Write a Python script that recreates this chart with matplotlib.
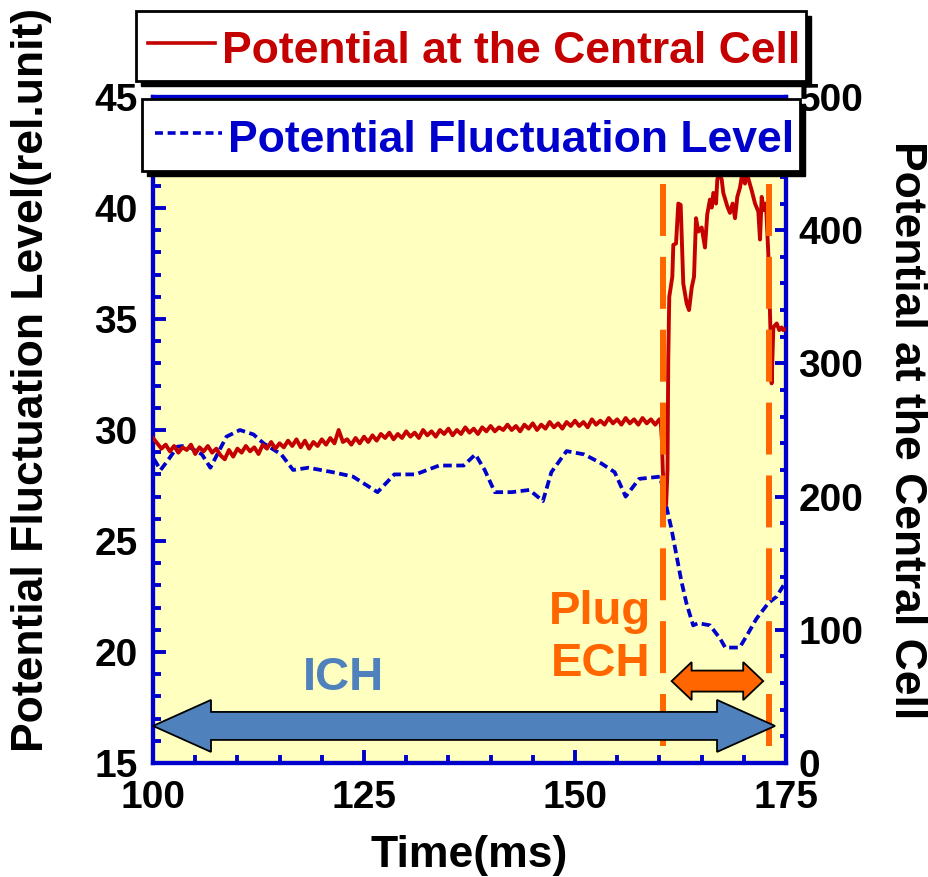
import matplotlib.pyplot as plt
from matplotlib.patches import Rectangle, Polygon
from matplotlib.lines import Line2D

plt.rcParams['font.family'] = ['Liberation Sans', 'DejaVu Sans']
plt.rcParams['font.weight'] = 'bold'
plt.rcParams['axes.labelweight'] = 'bold'

W, H = 929, 877

# central cell potential (right axis)
pot_t = [100.0, 100.5, 101.0, 101.5, 102.0, 102.5, 103.0, 103.5, 104.0, 104.5,
         105.0, 105.5, 106.0, 106.5, 107.0, 107.5, 108.0, 108.5, 109.0, 109.5,
         110.0, 110.5, 111.0, 111.5, 112.0, 112.5, 113.0, 113.5, 114.0, 114.5,
         115.0, 115.5, 116.0, 116.5, 117.0, 117.5, 118.0, 118.5, 119.0, 119.5,
         120.0, 120.5, 121.0, 121.5, 122.0, 122.5, 123.0, 123.5, 124.0, 124.5,
         125.0, 125.5, 126.0, 126.5, 127.0, 127.5, 128.0, 128.5, 129.0, 129.5,
         130.0, 130.5, 131.0, 131.5, 132.0, 132.5, 133.0, 133.5, 134.0, 134.5,
         135.0, 135.5, 136.0, 136.5, 137.0, 137.5, 138.0, 138.5, 139.0, 139.5,
         140.0, 140.5, 141.0, 141.5, 142.0, 142.5, 143.0, 143.5, 144.0, 144.5,
         145.0, 145.5, 146.0, 146.5, 147.0, 147.5, 148.0, 148.5, 149.0, 149.5,
         150.0, 150.5, 151.0, 151.5, 152.0, 152.5, 153.0, 153.5, 154.0, 154.5,
         155.0, 155.5, 156.0, 156.5, 157.0, 157.5, 158.0, 158.5, 159.0, 159.5,
         160.0, 160.15, 160.3, 160.4, 160.6, 160.8, 160.96, 161.05, 161.17, 161.53,
         161.65, 161.97, 162.24, 162.52, 162.83, 163.23, 163.51, 163.83, 164.1, 164.34,
         164.61, 165.01, 165.4, 165.67, 165.99, 166.2, 166.39, 166.71, 166.86, 167.1,
         167.38, 167.57, 168.04, 168.36, 168.68, 168.96, 169.23, 169.55, 169.75, 170.14,
         170.34, 170.93, 171.33, 171.72, 171.92, 172.12, 172.39, 172.63, 172.9, 173.19,
         173.3, 173.5, 173.9, 174.2, 174.49, 174.68, 175.0]
pot_v = [244, 240, 236, 239, 234, 238, 233, 237, 235, 239,
         232, 237, 234, 238, 233, 236, 231, 228, 235, 230,
         236, 233, 238, 234, 237, 232, 239, 236, 241, 236,
         240, 237, 242, 238, 243, 237, 242, 236, 241, 238,
         243, 239, 244, 240, 250, 241, 243, 239, 244, 240,
         245, 241, 246, 242, 247, 244, 248, 243, 247, 244,
         249, 245, 248, 244, 250, 246, 249, 245, 250, 247,
         251, 246, 250, 247, 252, 248, 251, 247, 252, 249,
         253, 249, 252, 250, 254, 250, 253, 249, 254, 251,
         255, 250, 254, 251, 256, 252, 255, 251, 256, 253,
         257, 253, 256, 252, 258, 254, 257, 254, 259, 255,
         258, 254, 259, 255, 258, 254, 259, 255, 258, 254,
         258, 257, 242, 220, 197, 194, 220, 303, 350, 365,
         389, 390, 420, 419, 360, 345, 340, 357, 365, 409,
         399, 402, 387, 412, 423, 417, 428, 420, 438, 443,
         438, 428, 418, 413, 420, 409, 425, 432, 440, 435,
         443, 430, 420, 414, 393, 425, 415, 420, 383, 318,
         285, 327, 330, 325, 327, 325, 326]

# potential fluctuation level (left axis)
fluc_t = [100.1, 100.9, 101.7, 102.9, 104.0, 105.8, 106.8, 108.7, 110.3, 111.9,
          113.1, 115.2, 116.6, 118.4, 121.3, 123.7, 126.6, 128.6, 131.1, 133.9,
          136.8, 138.2, 139.3, 140.5, 142.5, 144.6, 146.2, 147.2, 149.0, 151.1,
          153.1, 154.7, 156.0, 157.6, 160.1, 160.8, 161.4, 162.0, 162.6, 163.2,
          164.0, 164.6, 166.0, 167.2, 167.8, 169.5, 170.3, 171.5, 172.9, 173.9,
          174.7]
fluc_v = [28.7, 28.2, 28.6, 29.25, 29.3, 28.9, 28.3, 29.7, 30.0, 29.8,
          29.4, 28.9, 28.2, 28.3, 28.1, 27.9, 27.2, 28.0, 28.0, 28.4,
          28.4, 28.9, 28.2, 27.2, 27.2, 27.3, 26.8, 28.1, 29.05, 28.9,
          28.5, 28.1, 27.0, 27.8, 27.9, 26.6, 25.6, 24.4, 23.2, 22.2,
          21.2, 21.3, 21.2, 20.6, 20.2, 20.2, 20.7, 21.5, 22.2, 22.5,
          23.0]

ech_on, ech_off = 160.4, 173.0
ich_span = (100.0, 173.7)
ech_span = (161.45, 172.3)

RED = '#C40000'
BLUE = '#0000CC'
ORANGE = '#FF6600'
STEEL = '#4F81BD'

fig = plt.figure(figsize=(W / 100, H / 100), dpi=100)
ax = fig.add_axes([153 / W, 1 - 763 / H, 633 / W, 666 / H])
ax.set_facecolor('#FFFFC0')
ax2 = ax.twinx()

ax.plot(fluc_t, fluc_v, color=BLUE, lw=2.7, linestyle=(0, (2.3, 1.2)))
ax2.plot(pot_t, pot_v, color=RED, lw=2.8, zorder=3)

ax.set_xlim(100, 175)
ax.set_ylim(15, 45)
ax2.set_ylim(0, 500)

ax.set_xticks([100, 125, 150, 175])
ax.set_xticks(range(100, 176, 5), minor=True)
ax.set_yticks(range(15, 46, 5))
ax.set_yticks(range(15, 46, 1), minor=True)
ax2.set_yticks(range(0, 501, 100))
ax2.set_yticks(range(0, 501, 20), minor=True)

for a in (ax, ax2):
    for s in a.spines.values():
        s.set_color(BLUE)
        s.set_linewidth(3)
ax.tick_params(axis='both', which='both', direction='in', color=BLUE, width=2.8,
               labelsize=28, top=False, right=False)
ax.tick_params(axis='both', which='major', length=9.5)
ax.tick_params(axis='both', which='minor', length=5.5)
ax.tick_params(axis='y', pad=11)
ax.tick_params(axis='x', pad=12)
ax2.tick_params(axis='y', which='both', direction='in', color=BLUE, width=2.8,
                labelsize=28, pad=9)
ax2.tick_params(axis='y', which='major', length=8)
ax2.tick_params(axis='y', which='minor', length=4.5)

ax.set_xlabel('Time(ms)', fontsize=32, labelpad=14)
ax.set_ylabel('Potential Fluctuation Level(rel.unit)', fontsize=32)
ax.yaxis.set_label_coords(-0.16, 0.575)
ax2.set_ylabel('Potential at the Central Cell', fontsize=32, rotation=270, labelpad=46)

# plug ECH on/off markers
for t in (ech_on, ech_off):
    ax2.plot([t, t], [41.1, 15.6], transform=ax.transData, color=ORANGE, lw=4.3,
             linestyle=(0, (8.7, 3.5)), zorder=5)


def block_arrow(x0, x1, y, shaft, head, head_len, color):
    # double-headed block arrow; ends in data units, widths in pixels
    (px0, py), (px1, _) = ax.transData.transform([(x0, y), (x1, y)])
    pts = [(px0, py), (px0 + head_len, py + head), (px0 + head_len, py + shaft),
           (px1 - head_len, py + shaft), (px1 - head_len, py + head), (px1, py),
           (px1 - head_len, py - head), (px1 - head_len, py - shaft),
           (px0 + head_len, py - shaft), (px0 + head_len, py - head)]
    pts = ax.transAxes.inverted().transform(pts)
    ax2.add_patch(Polygon(pts, closed=True, transform=ax.transAxes, facecolor=color,
                          edgecolor='black', lw=1.3, zorder=6, clip_on=False))


block_arrow(ich_span[0], ich_span[1], 16.67, 14, 26, 58, STEEL)
block_arrow(ech_span[0], ech_span[1], 18.69, 10.5, 19, 20, ORANGE)

ax2.text(122.6, 18.3, 'ICH', transform=ax.transData, color=STEEL, fontsize=34,
         ha='center', va='baseline', zorder=7)
ax2.text(153.0, 21.26, 'Plug', transform=ax.transData, color=ORANGE, fontsize=34,
         ha='center', va='baseline', zorder=7)
ax2.text(153.0, 18.92, 'ECH', transform=ax.transData, color=ORANGE, fontsize=34,
         ha='center', va='baseline', zorder=7)


def fx(x):
    return x / W


def fy(y):
    return 1 - y / H


def legend_box(x0, y0, x1, y1, label, color, ls, line_y, line_x0, line_x1, text_x, base_y):
    fig.patches.append(Rectangle((fx(x0 + 5), fy(y1 + 5)), fx(x1 - x0), (y1 - y0) / H,
                                 transform=fig.transFigure, facecolor='black',
                                 edgecolor='black', zorder=10))
    fig.patches.append(Rectangle((fx(x0), fy(y1)), fx(x1 - x0), (y1 - y0) / H,
                                 transform=fig.transFigure, facecolor='white',
                                 edgecolor='black', lw=2, zorder=11))
    fig.lines.append(Line2D([fx(line_x0), fx(line_x1)], [fy(line_y), fy(line_y)],
                            transform=fig.transFigure, color=color, lw=2.6,
                            linestyle=ls, zorder=12))
    fig.text(fx(text_x), fy(base_y), label, color=color, fontsize=32,
             ha='left', va='baseline', zorder=12)


legend_box(136, 11, 806, 81, 'Potential at the Central Cell', RED, '-',
           43, 148, 215, 222, 63)
legend_box(142, 99, 800, 171, 'Potential Fluctuation Level', BLUE, (0, (2.2, 1.3)),
           133, 155, 222, 228, 152)

fig.savefig('out.png', dpi=100)
